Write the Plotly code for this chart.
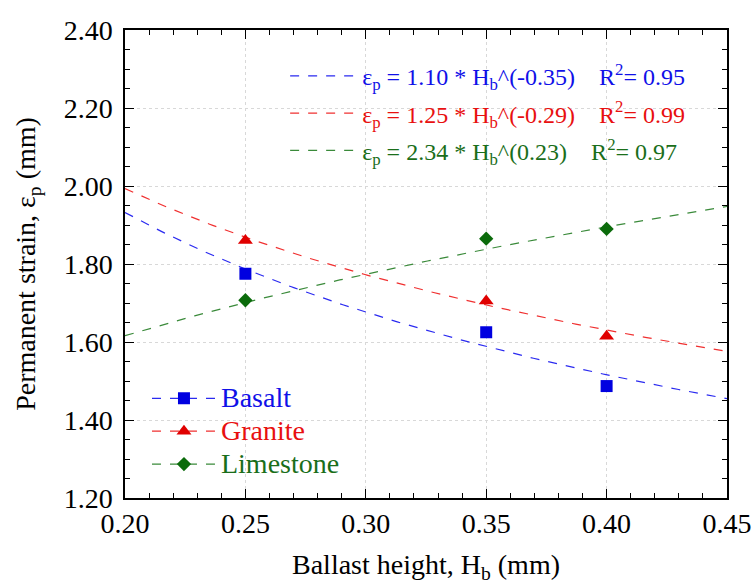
import numpy as np
import plotly.graph_objects as go

# Data
heights = [0.25, 0.35, 0.40]
basalt = [1.775, 1.625, 1.487]
granite = [1.860, 1.705, 1.615]
limestone = [1.707, 1.865, 1.890]

# Power fit coefficients: eps = a * H^b
fit_a = {"Basalt": 1.10, "Granite": 1.25, "Limestone": 2.34}
fit_b = {"Basalt": -0.35, "Granite": -0.29, "Limestone": 0.23}
fit_r2 = {"Basalt": 0.95, "Granite": 0.99, "Limestone": 0.97}

x_ticks = [0.20, 0.25, 0.30, 0.35, 0.40, 0.45]
y_ticks = [1.20, 1.40, 1.60, 1.80, 2.00, 2.20, 2.40]

marker_col = {"Basalt": "#0000e0", "Granite": "#e00000", "Limestone": "#0b6b0b"}
line_col = {"Basalt": "#2a2af0", "Granite": "#f03030", "Limestone": "#3a8a3a"}
text_col = {"Basalt": "#1010e8", "Granite": "#e81010", "Limestone": "#1a6e1a"}
symbols = {"Basalt": "square", "Granite": "triangle-up", "Limestone": "diamond"}
msize = {"Basalt": 12, "Granite": 13, "Limestone": 11}
values = {"Basalt": basalt, "Granite": granite, "Limestone": limestone}

FONT = "Times New Roman, Liberation Serif, serif"
fig = go.Figure()

xf = np.linspace(0.20, 0.45, 200)
for name in ["Basalt", "Granite", "Limestone"]:
    a, b = fit_a[name], fit_b[name]
    bstr = f"({b:.2f})"
    label = (f'<span style="color:{text_col[name]}">ε<sub>p</sub> = {a:.2f} * H<sub>b</sub>^{bstr}'
             f'&nbsp;&nbsp;&nbsp;&nbsp;R<sup>2</sup>= {fit_r2[name]:.2f}</span>')
    fig.add_trace(go.Scatter(x=xf, y=a * xf ** b, mode="lines", name=label,
                             line=dict(color=line_col[name], width=1.2, dash="dash"),
                             legend="legend2", legendgroup="fit_" + name))

for name in ["Basalt", "Granite", "Limestone"]:
    fig.add_trace(go.Scatter(x=heights, y=values[name], mode="markers", showlegend=False,
                             marker=dict(symbol=symbols[name], size=msize[name], color=marker_col[name])))
    fig.add_trace(go.Scatter(x=[None], y=[None], mode="lines+markers",
                             name=f'<span style="color:{text_col[name]};font-size:28px">{name}</span>',
                             line=dict(color=line_col[name], width=1.2, dash="dash"),
                             marker=dict(symbol=symbols[name], size=msize[name], color=marker_col[name]),
                             legend="legend"))

axis_common = dict(showline=True, linecolor="black", linewidth=1.5, mirror="ticks",
                   ticks="inside", ticklen=9, tickwidth=1.2, tickcolor="black",
                   showgrid=True, gridcolor="#d8d8d8", griddash="dot", gridwidth=1,
                   zeroline=False, ticklabeloverflow="allow", automargin=False,
                   tickfont=dict(family=FONT, size=28, color="black"))

fig.update_xaxes(range=[0.20, 0.4500001], tickvals=x_ticks, ticktext=[f"{v:.2f}" for v in x_ticks],
                 minor=dict(dtick=0.01, ticks="inside", ticklen=5, tickcolor="black", showgrid=False),
                 title=dict(text="Ballast height, H<sub>b</sub> (mm)", font=dict(family=FONT, size=28, color="black"),
                            standoff=16),
                 **axis_common)
fig.update_yaxes(range=[1.20, 2.40], tickvals=y_ticks, ticktext=[f"{v:.2f}" for v in y_ticks],
                 minor=dict(dtick=0.05, ticks="inside", ticklen=5, tickcolor="black", showgrid=False),
                 ticklabelstandoff=5,
                 title=dict(text="Permanent strain, ε<sub>p</sub> (mm)", font=dict(family=FONT, size=28, color="black"),
                            standoff=20),
                 **axis_common)

fig.update_layout(
    width=754, height=588,
    margin=dict(l=125, r=27, t=30, b=90),
    paper_bgcolor="white", plot_bgcolor="white",
    font=dict(family=FONT),
    legend=dict(x=0.0365, y=0.026, xanchor="left", yanchor="bottom", bgcolor="rgba(0,0,0,0)",
                font=dict(family=FONT, size=23), itemwidth=64, tracegroupgap=0),
    legend2=dict(x=0.266, y=0.949, xanchor="left", yanchor="top", bgcolor="rgba(0,0,0,0)",
                 font=dict(family=FONT, size=24), itemwidth=67, tracegroupgap=3),
)

fig.write_html("out.html")
